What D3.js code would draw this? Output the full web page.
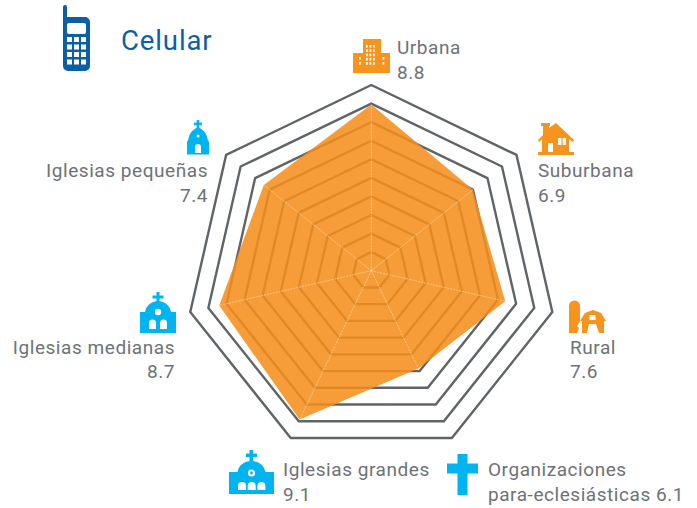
<!DOCTYPE html>
<html>
<head>
<meta charset="utf-8">
<script src="https://cdn.jsdelivr.net/npm/d3@7"></script>
<style>
	html, body { margin: 0; padding: 0; background: #fff; }
	text { font-family: Roboto, sans-serif; font-size: 19px; fill: #6d7278; letter-spacing: 0.55px; }
</style>
</head>
<body>
<div class="container"></div>
<script>
var categories = ['Urbana', 'Suburbana', 'Rural', 'Organizaciones', 'Iglesias grandes', 'Iglesias medianas', 'Iglesias pequeñas'];
var valueLabels = ['8.8', '6.9', '7.6', '6.1', '9.1', '8.7', '7.4'];
// where the polygon actually sits on the rings, it does not quite follow the printed numbers
var plotted = [8.95, 7.0, 7.4, 5.85, 8.9, 8.4, 7.4];
var levels = [1, 2, 3, 4, 5, 6, 7, 8, 9, 10];
var title = 'Celular';

var WIDTH = 697, HEIGHT = 508, ORANGE = '#f7941d', BLUE = '#00b5ef', NAVY = '#0b5fa5';

var svg = d3.select('.container').append('svg')
	.attr('width', WIDTH)
	.attr('height', HEIGHT)
	.style('display', 'block');

var rScale = d3.scaleLinear().domain([0, 10]).range([0, 185.7]);
var angle = d3.scalePoint().domain(d3.range(categories.length + 1)).range([0, 2 * Math.PI]);

var radar = d3.lineRadial()
	.curve(d3.curveLinearClosed)
	.angle(function(d, i) { return angle(i); })
	.radius(function(d) { return rScale(d); });

var chart = svg.append('g').attr('transform', 'translate(371.3,270.7)');

chart.selectAll('.ring').data(levels)
	.enter()
	.append('path')
	.attr('class', 'ring')
	.attr('d', function(level) { return radar(categories.map(function() { return level; })); })
	.attr('fill', 'none')
	.attr('stroke', '#5f6468')
	.attr('stroke-width', 2.4)
	.attr('stroke-linejoin', 'miter');

chart.append('path')
	.datum(plotted)
	.attr('d', radar)
	.attr('fill', '#f58f1c')
	.attr('fill-opacity', 0.87);

chart.selectAll('.spoke').data(plotted)
	.enter()
	.append('line')
	.attr('class', 'spoke')
	.attr('x2', function(d, i) { return rScale(d) * Math.sin(angle(i)); })
	.attr('y2', function(d, i) { return -rScale(d) * Math.cos(angle(i)); })
	.attr('stroke', '#fbd9a8')
	.attr('stroke-width', 0.7)
	.attr('stroke-dasharray', '2,1');

var addLabel = function(i, x, y1, y2, anchor) {
	svg.append('text').attr('x', x).attr('y', y1).attr('text-anchor', anchor).text(categories[i]);
	svg.append('text').attr('x', x).attr('y', y2).attr('text-anchor', anchor).text(valueLabels[i]);
};

addLabel(0, 397, 54, 79, 'start');
addLabel(1, 538, 177, 202, 'start');
addLabel(2, 570, 354, 378, 'start');
addLabel(4, 283, 476, 501, 'start');
addLabel(5, 175, 354, 378, 'end');
addLabel(6, 208, 177, 202, 'end');
svg.append('text').attr('x', 488).attr('y', 476).text(categories[3]);
svg.append('text').attr('x', 488).attr('y', 501).text('para-eclesiásticas ' + valueLabels[3]);

svg.append('text').attr('x', 121).attr('y', 50)
	.style('font-size', '27.5px')
	.style('letter-spacing', '0.9px')
	.style('fill', NAVY)
	.text(title);

// icons
var icon = function(x, y, color) {
	return svg.append('g').attr('transform', 'translate(' + x + ',' + y + ')').attr('fill', color);
};
var box = function(g, x, y, w, h, fill, rx) {
	g.append('rect').attr('x', x).attr('y', y).attr('width', w).attr('height', h)
		.attr('fill', fill || null).attr('rx', rx || 0);
};
var shape = function(g, d, fill) {
	g.append('path').attr('d', d).attr('fill', fill || null);
};

// phone
var phone = icon(63, 5, NAVY);
shape(phone, 'M0,2a2,2 0 0 1 4,0 v10 h18 a5,5 0 0 1 5,5 v44 a5,5 0 0 1 -5,5 h-17 a5,5 0 0 1 -5,-5z');
box(phone, 4, 18, 19, 11, '#fff', 2);
d3.range(4).forEach(function(row) {
	d3.range(3).forEach(function(col) {
		box(phone, 4 + col * 7, 32 + row * 7.5, 5, 5, '#fff');
	});
});

// building
var building = icon(353, 39, ORANGE);
box(building, 10, 0, 18, 34);
box(building, 0, 14, 37, 20);
[13, 16.5, 20].forEach(function(x) {
	d3.range(5).forEach(function(row) {
		box(building, x, 6 + row * 4.3, 1.8, 2.6, '#fff');
	});
});
[6, 29.5].forEach(function(x) {
	d3.range(2).forEach(function(row) { box(building, x, 18 + row * 5, 1.8, 2.6, '#fff'); });
});

// house
var house = icon(538, 123, ORANGE);
shape(house, 'M3,0 h9 v3 h-1 v2 L18,0 L36,17 L34.5,19 L31,16 V29 H36 V32 H0 V29 H4 V16 L1.5,19 L0,17 L5,12 V3 H3z');
box(house, 20, 15, 8, 7, '#fff');
box(house, 23.4, 15, 1.2, 7, ORANGE);
box(house, 10, 20, 5, 9, '#fff');

// barn
var barn = icon(569, 300, ORANGE);
shape(barn, 'M0,6 a5.5,5.5 0 0 1 11,0 V21 L8,26 L10,28 L8,33 H0z');
shape(barn, 'M11,21 L16,13 L24,10 L32,13 L37,21 L35,21 V33 H13 V21z');
box(barn, 20.5, 15, 6, 5, '#fff');
shape(barn, 'M18,33 L20,24 H27 L30,33z', '#fff');

// small church
var small = icon(186, 120, BLUE);
box(small, 10.7, 0, 2.6, 9);
box(small, 8, 2.6, 8, 2.6);
shape(small, 'M12,7 C6,10 3,14 2.5,19 L1,22 V34.5 H23 V22 L21.5,19 C21,14 18,10 12,7z');
shape(small, 'M9,33 V27 a3,3 0 0 1 6,0 V33z', '#fff');
small.append('circle').attr('cx', 12).attr('cy', 16).attr('r', 1.5).attr('fill', '#fff');

// medium church
var medium = icon(140, 292, BLUE);
box(medium, 16.5, 0, 3, 11);
box(medium, 12.5, 3.5, 11, 3);
shape(medium, 'M18,9 C11,9 6,14 5,20 H0 V41 H36 V20 H31 C30,14 25,9 18,9z');
medium.append('circle').attr('cx', 18).attr('cy', 20).attr('r', 3.2).attr('fill', '#fff');
shape(medium, 'M9,37 V31 a3.5,3.5 0 0 1 7,0 V37z', '#fff');
shape(medium, 'M20,37 V31 a3.5,3.5 0 0 1 7,0 V37z', '#fff');

// large church
var large = icon(229, 450, BLUE);
box(large, 20.5, 0, 3.6, 14);
box(large, 17, 3.6, 11, 3.4);
shape(large, 'M22.5,11 C15,11 10,15 8.5,22 H0 V44 H45 V22 H36.5 C35,15 30,11 22.5,11z');
large.append('circle').attr('cx', 22.5).attr('cy', 23).attr('r', 3.6).attr('fill', '#fff');
large.append('circle').attr('cx', 22.5).attr('cy', 23).attr('r', 1.4).attr('fill', BLUE);
[9, 18.7, 28.4].forEach(function(x) {
	shape(large, 'M' + x + ',40 V36 a4,4 0 0 1 8,0 V40z', '#fff');
});

// cross
var cross = icon(447, 454, BLUE);
box(cross, 10.5, 0, 10, 41);
box(cross, 0, 9.5, 31, 10);
</script>
</body>
</html>
